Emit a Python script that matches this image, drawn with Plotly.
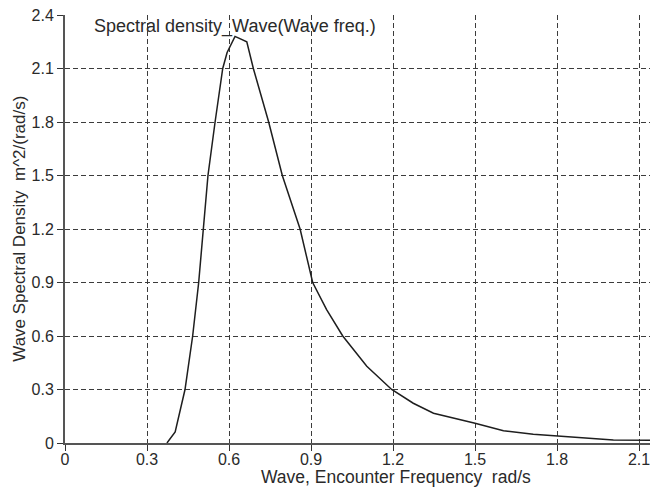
import plotly.graph_objects as go

# Curve
freq = [0.373, 0.403, 0.439, 0.467, 0.489, 0.505, 0.523, 0.549, 0.577, 0.593,
        0.622, 0.665, 0.689, 0.745, 0.795, 0.86, 0.906, 0.957, 1.016, 1.104,
        1.195, 1.274, 1.348, 1.5, 1.604, 1.713, 1.8, 1.897, 2.006, 2.14]
density = [0.0, 0.062, 0.3, 0.6, 0.9, 1.2, 1.5, 1.8, 2.1, 2.19,
           2.28, 2.25, 2.1, 1.8, 1.5, 1.2, 0.9, 0.748, 0.6, 0.43,
           0.3, 0.223, 0.167, 0.111, 0.069, 0.049, 0.04, 0.026, 0.017, 0.015]

x_ticks = [0, 0.3, 0.6, 0.9, 1.2, 1.5, 1.8, 2.1]
x_tick_labels = ["0", "0.3", "0.6", "0.9", "1.2", "1.5", "1.8", "2.1"]
y_ticks = [0, 0.3, 0.6, 0.9, 1.2, 1.5, 1.8, 2.1, 2.4]
y_tick_labels = ["0", "0.3", "0.6", "0.9", "1.2", "1.5", "1.8", "2.1", "2.4"]

chart_title = "Spectral density_Wave(Wave freq.)"
x_title = "Wave, Encounter Frequency  rad/s"
y_title = "Wave Spectral Density  m^2/(rad/s)"

FONT = "Liberation Sans, Arial, sans-serif"
TXT = "#2a2a2a"

fig = go.Figure()
fig.add_trace(go.Scatter(x=freq, y=density, mode="lines",
                         line=dict(color="#1e1e1e", width=1.5),
                         showlegend=False, cliponaxis=False))

axis_common = dict(
    showgrid=True, gridcolor="#3c3c3c", gridwidth=1, griddash="5px,3px",
    showline=True, linecolor="#555555", linewidth=2,
    ticks="outside", ticklen=6, tickcolor="#333333", tickwidth=1,
    zeroline=False, automargin=False, ticklabeloverflow="allow",
    tickfont=dict(family=FONT, size=16, color=TXT),
)

fig.update_layout(
    width=650, height=489,
    margin=dict(l=65, r=0, t=15, b=46, autoexpand=False),
    paper_bgcolor="white", plot_bgcolor="white",
    xaxis=dict(range=[0, 2.14], tickvals=x_ticks, ticktext=x_tick_labels,
               ticklabelstandoff=-5, **axis_common),
    yaxis=dict(range=[0, 2.4], tickvals=y_ticks, ticktext=y_tick_labels, **axis_common),
    annotations=[
        dict(text=chart_title, xref="paper", yref="paper", x=0.047, y=0.972,
             xanchor="left", yanchor="middle", showarrow=False,
             font=dict(family=FONT, size=18, color=TXT)),
        dict(text=x_title, xref="paper", yref="paper", x=0.566, y=-0.08,
             xanchor="center", yanchor="middle", showarrow=False,
             font=dict(family=FONT, size=17.5, color=TXT)),
        dict(text=y_title, xref="paper", yref="paper", x=-0.079, y=0.5,
             xanchor="center", yanchor="middle", showarrow=False, textangle=-90,
             font=dict(family=FONT, size=17, color=TXT)),
    ],
)

fig.write_html("out.html", config={"displayModeBar": False},
               post_script="document.body.style.margin='0';document.body.style.overflow='hidden';")
